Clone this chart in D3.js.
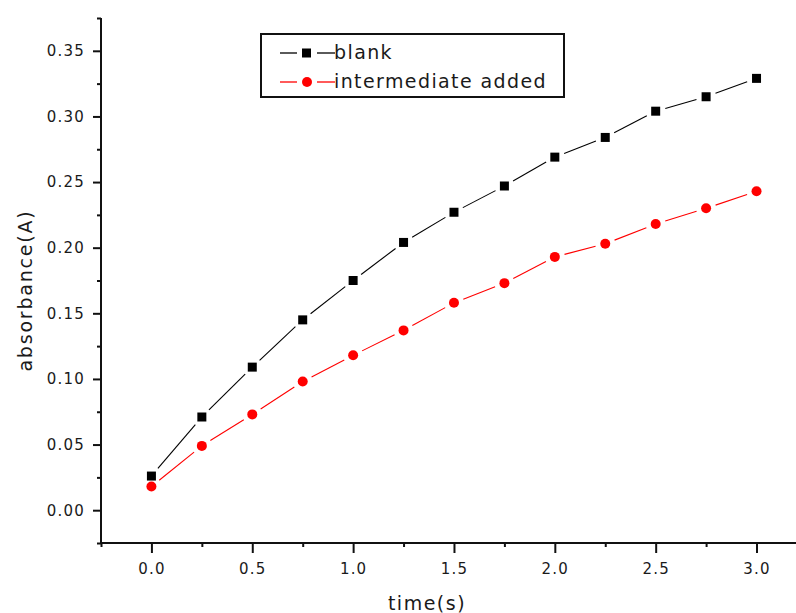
<!DOCTYPE html>
<html>
<head>
<meta charset="utf-8">
<script src="https://cdn.jsdelivr.net/npm/d3@7"></script>
<style>
  html, body { margin: 0; padding: 0; background: #ffffff; }
  svg { display: block; }
  text { font-family: "DejaVu Sans", sans-serif; fill: #1a1a1a; }
</style>
</head>
<body>
<svg id="chart" width="796" height="613"></svg>
<script>
// ---- data ----
const times = [0, 0.25, 0.5, 0.75, 1.0, 1.25, 1.5, 1.75, 2.0, 2.25, 2.5, 2.75, 3.0];
const blank = [0.026, 0.071, 0.109, 0.145, 0.175, 0.204, 0.227, 0.247, 0.269, 0.284, 0.304, 0.315, 0.329];
const intermediateAdded = [0.018, 0.049, 0.073, 0.098, 0.118, 0.137, 0.158, 0.173, 0.193, 0.203, 0.218, 0.230, 0.243];
const seriesNames = ["blank", "intermediate added"];
const xTicks = [0, 0.5, 1.0, 1.5, 2.0, 2.5, 3.0];
const yTicks = [0, 0.05, 0.10, 0.15, 0.20, 0.25, 0.30, 0.35];
const xMinor = [-0.25, 0.25, 0.75, 1.25, 1.75, 2.25, 2.75, 3.25];
const yMinor = [-0.025, 0.025, 0.075, 0.125, 0.175, 0.225, 0.275, 0.325, 0.375];
const xTitle = "time(s)";
const yTitle = "absorbance(A)";

const svg = d3.select("#chart");
const L = 101, B = 543, T = 18;
const x = d3.scaleLinear().domain([-0.25, 3.25]).range([L, L + 3.5 * 201.7]);
const y = d3.scaleLinear().domain([-0.025, 0.375]).range([B, T]);

const series = [
  { name: seriesNames[0], values: blank, color: "#000000", shape: "square" },
  { name: seriesNames[1], values: intermediateAdded, color: "#ff0000", shape: "circle" }
];

// ---- lines with gaps near markers ----
const GAP = 10;
series.forEach(s => {
  const pts = times.map((t, i) => [x(t), y(s.values[i])]);
  const g = svg.append("g");
  for (let i = 0; i < pts.length - 1; i++) {
    const [x1, y1] = pts[i], [x2, y2] = pts[i + 1];
    const dx = x2 - x1, dy = y2 - y1, len = Math.hypot(dx, dy);
    const ux = dx / len, uy = dy / len;
    g.append("line")
      .attr("x1", x1 + ux * GAP).attr("y1", y1 + uy * GAP)
      .attr("x2", x2 - ux * GAP).attr("y2", y2 - uy * GAP)
      .attr("stroke", s.color).attr("stroke-width", 1.1);
  }
  const m = svg.append("g");
  if (s.shape === "square") {
    m.selectAll("rect").data(times).join("rect")
      .attr("x", (t) => x(t) - 4.5)
      .attr("y", (t, i) => y(s.values[i]) - 4.5)
      .attr("width", 9).attr("height", 9)
      .attr("fill", s.color);
  } else {
    m.selectAll("circle").data(times).join("circle")
      .attr("cx", (t) => x(t))
      .attr("cy", (t, i) => y(s.values[i]))
      .attr("r", 5)
      .attr("fill", s.color);
  }
});

// ---- axes ----
svg.append("g").attr("transform", `translate(0,${B})`)
  .call(d3.axisBottom(x).tickValues(xTicks).tickSize(10).tickPadding(10).tickFormat(d3.format(".1f")));
svg.append("g").attr("transform", `translate(${L},0)`)
  .call(d3.axisLeft(y).tickValues(yTicks).tickSize(8).tickPadding(8).tickFormat(d3.format(".2f")));
svg.append("g").attr("transform", `translate(0,${B})`)
  .call(d3.axisBottom(x).tickValues(xMinor).tickSize(4).tickFormat(""));
svg.append("g").attr("transform", `translate(${L},0)`)
  .call(d3.axisLeft(y).tickValues(yMinor).tickSize(4).tickFormat(""));

svg.selectAll(".domain").remove();
svg.selectAll(".tick line").attr("stroke", "#111").attr("stroke-width", 2);
svg.selectAll(".tick text")
  .style("font-family", "'DejaVu Sans', sans-serif")
  .style("font-size", "15px")
  .style("letter-spacing", "1.2px")
  .attr("fill", "#1a1a1a");

// axis lines
svg.append("line").attr("x1", L).attr("x2", 796).attr("y1", B).attr("y2", B)
  .attr("stroke", "#111").attr("stroke-width", 2);
svg.append("line").attr("x1", L).attr("x2", L).attr("y1", T).attr("y2", B + 1)
  .attr("stroke", "#111").attr("stroke-width", 2);

// ---- titles ----
svg.append("text").attr("x", 427).attr("y", 610)
  .attr("text-anchor", "middle")
  .style("font-size", "19px").style("letter-spacing", "1.5px")
  .text(xTitle);
svg.append("text")
  .attr("transform", `translate(32,${(T + B) / 2 + 10}) rotate(-90)`)
  .attr("text-anchor", "middle")
  .style("font-size", "19px").style("letter-spacing", "1.8px")
  .text(yTitle);

// ---- legend ----
const lg = svg.append("g");
lg.append("rect").attr("x", 261).attr("y", 34).attr("width", 303).attr("height", 63)
  .attr("fill", "#fff").attr("stroke", "#111").attr("stroke-width", 2);
series.forEach((s, i) => {
  const cy = 53 + i * 29;
  lg.append("line").attr("x1", 280).attr("x2", 297).attr("y1", cy).attr("y2", cy)
    .attr("stroke", s.color).attr("stroke-width", 1.3);
  lg.append("line").attr("x1", 317).attr("x2", 335).attr("y1", cy).attr("y2", cy)
    .attr("stroke", s.color).attr("stroke-width", 1.3);
  if (s.shape === "square") {
    lg.append("rect").attr("x", 302).attr("y", cy - 4.5).attr("width", 9).attr("height", 9).attr("fill", s.color);
  } else {
    lg.append("circle").attr("cx", 307).attr("cy", cy).attr("r", 5).attr("fill", s.color);
  }
  lg.append("text").attr("x", 334).attr("y", cy + 6)
    .style("font-size", "19px").style("letter-spacing", "1.4px")
    .text(s.name);
});
</script>
</body>
</html>
